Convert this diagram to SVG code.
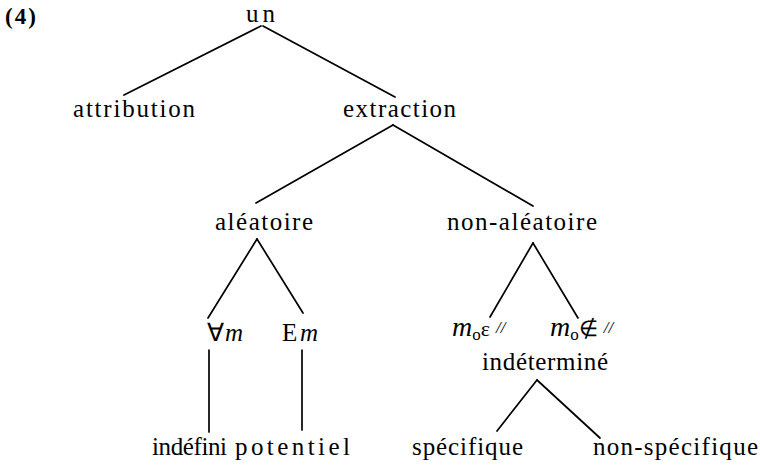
<svg xmlns="http://www.w3.org/2000/svg" width="760" height="465" viewBox="0 0 760 465">
<style>
text{font-family:"Liberation Serif","Times New Roman",serif;font-size:25px;fill:#000}
.it{font-style:italic}
.mm{font-style:italic;font-size:28px}
.sub{font-size:17px}
.el{font-size:22px}
.sl{font-size:17px;font-style:italic}
.num{font-weight:bold;font-size:23px}
#edges line{stroke:#000;stroke-width:1.7;stroke-linecap:round}
</style>
<rect width="760" height="465" fill="#fff"/>
<text class="num" x="5" y="24" textLength="31" lengthAdjust="spacing">(4)</text>
<g id="edges">
<line x1="261" y1="26" x2="124" y2="95"/>
<line x1="263" y1="26" x2="395" y2="97"/>
<line x1="393" y1="125" x2="256" y2="203"/>
<line x1="393" y1="125" x2="533" y2="206"/>
<line x1="257" y1="239" x2="208" y2="318"/>
<line x1="257" y1="239" x2="303" y2="313"/>
<line x1="533" y1="243" x2="490" y2="317"/>
<line x1="533" y1="243" x2="578" y2="318"/>
<line x1="209" y1="350" x2="209" y2="432"/>
<line x1="302" y1="350" x2="302" y2="430"/>
<line x1="537" y1="380" x2="497" y2="431"/>
<line x1="537" y1="380" x2="600" y2="438"/>
</g>
<g id="n-un"><text x="246" y="22" textLength="29" lengthAdjust="spacing">un</text></g>
<g id="n-attribution"><text x="73" y="117" textLength="122" lengthAdjust="spacing">attribution</text></g>
<g id="n-extraction"><text x="343" y="117" textLength="113" lengthAdjust="spacing">extraction</text></g>
<g id="n-aleatoire"><text x="215" y="230" textLength="98" lengthAdjust="spacing">aléatoire</text></g>
<g id="n-nonaleatoire"><text x="447" y="230" textLength="150" lengthAdjust="spacing">non-aléatoire</text></g>
<g id="n-forall"><text x="207" y="341" textLength="36" lengthAdjust="spacing">∀<tspan class="it">m</tspan></text></g>
<g id="n-exists"><text x="282" y="341" textLength="36" lengthAdjust="spacing">E<tspan class="it">m</tspan></text></g>
<g id="n-m-in"><text x="452" y="336"><tspan class="mm">m</tspan><tspan class="sub" dy="4">o</tspan><tspan class="el" dy="-4">ε</tspan><tspan class="sl" dx="6" dy="-3">//</tspan></text></g>
<g id="n-m-notin"><text x="550" y="336"><tspan class="mm">m</tspan><tspan class="sub" dy="4">o</tspan><tspan class="el" dy="-4">∉</tspan><tspan class="sl" dx="6" dy="-3">//</tspan></text></g>
<g id="n-indetermine"><text x="482" y="370" textLength="126" lengthAdjust="spacing">indéterminé</text></g>
<g id="n-indefini"><text x="152" y="455" textLength="75" lengthAdjust="spacing">indéfini</text></g>
<g id="n-potentiel"><text x="235" y="455" textLength="115" lengthAdjust="spacing">potentiel</text></g>
<g id="n-specifique"><text x="412" y="455" textLength="111" lengthAdjust="spacing">spécifique</text></g>
<g id="n-nonspecifique"><text x="593" y="455" textLength="165" lengthAdjust="spacing">non-spécifique</text></g>
</svg>
